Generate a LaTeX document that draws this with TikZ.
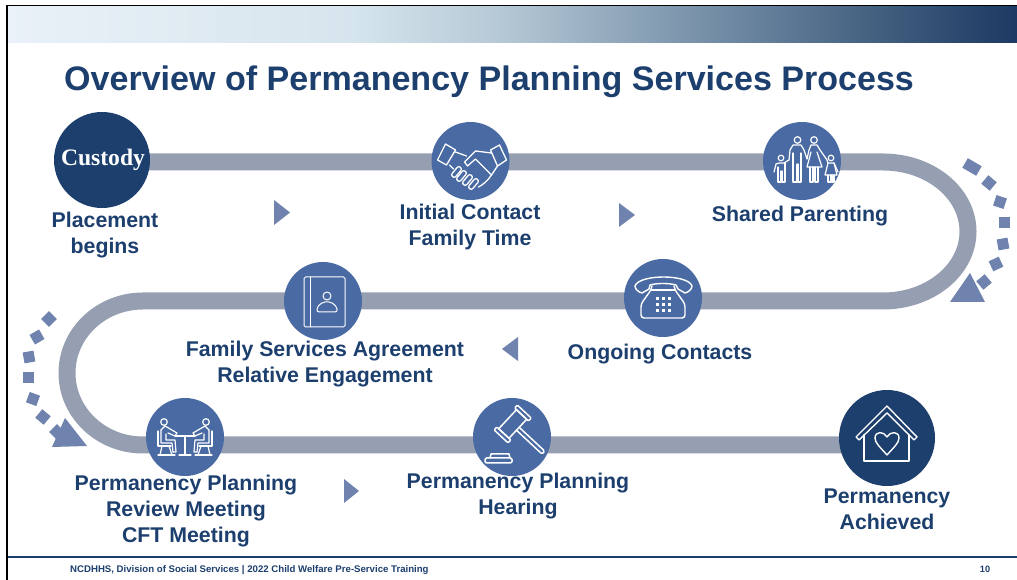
\documentclass[tikz,border=0pt]{standalone}
\usepackage{fontspec}
\setmainfont{Liberation Sans}
\newfontfamily\custodyfont{Liberation Serif}
\usetikzlibrary{backgrounds}

\definecolor{navyblue}{HTML}{1C3F6E}
\definecolor{stepblue}{HTML}{4A6AA3}
\definecolor{trackgray}{HTML}{969FB2}
\definecolor{markblue}{HTML}{6F83AE}
\definecolor{bandA}{HTML}{EAF1F8}
\definecolor{bandB}{HTML}{D6E5ED}
\definecolor{bandC}{HTML}{B5C8D5}
\definecolor{bandD}{HTML}{7A93AB}
\definecolor{bandE}{HTML}{42607F}
\definecolor{bandF}{HTML}{1C3A63}

\pgfdeclarehorizontalshading{headerband}{100bp}{
  color(0bp)=(bandA); color(25bp)=(bandA);
  color(42bp)=(bandB); color(49.5bp)=(bandC);
  color(59bp)=(bandD); color(68bp)=(bandE);
  color(75bp)=(bandF); color(100bp)=(bandF)}

\tikzset{
  smallstep/.style={circle, fill=stepblue, minimum size=78pt, inner sep=0pt},
  bigstep/.style={circle, fill=navyblue, minimum size=96pt, inner sep=0pt},
  steplabel/.style={text=navyblue, align=center, inner sep=0pt,
    font=\fontsize{21.3}{26}\selectfont\bfseries},
  track/.style={draw=trackgray, line width=17pt},
  icon/.style={draw=white, line width=1.3pt, line join=round, line cap=round},
  playmark/.style={fill=markblue},
}

\begin{document}
\begin{tikzpicture}[x=1pt, y=1pt]

\useasboundingbox (0,0) rectangle (1017,580);

% Slide frame and header band
\fill[black] (6,0) rectangle (8,574);
\fill[black] (6,573) rectangle (1017,574.5);
\shade[shading=headerband] (8,537) rectangle (1017,573);

% Title
\node[anchor=base west, inner sep=0pt, text=navyblue, font=\fontsize{34.05}{38}\selectfont\bfseries]
  (title) at (64,489.5) {Overview of Permanency Planning Services Process};

% Step circles
\node[bigstep] (custody) at (102,420) {\hspace{2pt}\custodyfont\fontsize{23.6}{26}\selectfont\bfseries\color{white}Custody};
\node[smallstep] (contact) at (470.5,419) {};
\node[smallstep] (shared) at (802,419) {};
\node[smallstep] (ongoing) at (663,282) {};
\node[smallstep] (agreement) at (323,279) {};
\node[smallstep] (review) at (185,143) {};
\node[smallstep] (hearing) at (512,143) {};
\node[bigstep] (achieved) at (887,142) {};

% Track through the steps
\coordinate (turnR) at (883,418);
\coordinate (turnL) at (143,279);
\coordinate (trackend) at (887,135);
\begin{scope}[on background layer]
\fill[white] (0,0) rectangle (1017,580);
\draw[track] (custody.center |- turnR) -- (turnR) arc[start angle=90, end angle=-90, x radius=85, y radius=69.5]
  -- (turnL) arc[start angle=90, end angle=270, x radius=76, y radius=72]
  -- (trackend);
\end{scope}

% Labels
\node[steplabel] (placementlabel) at (105,345) {Placement\\begins};
\node[steplabel] (contactlabel) at (470,353) {Initial Contact\\Family Time};
\node[steplabel] (sharedlabel) at (800,364) {Shared Parenting};
\node[steplabel] (ongoinglabel) at (660,226) {Ongoing Contacts};
\node[steplabel] (agreementlabel) at (325,216) {Family Services Agreement\\Relative Engagement};
\node[steplabel] (reviewlabel) at (186,69) {Permanency Planning\\Review Meeting\\CFT Meeting};
\node[steplabel] (hearinglabel) at (518,84) {Permanency Planning\\Hearing};
\node[steplabel] (achievedlabel) at (887,71) {Permanency\\Achieved};

% Direction marks
\fill[playmark] (274,380) -- (290,367.5) -- (274,355) -- cycle;
\fill[playmark] (619,377) -- (635,365) -- (619,353) -- cycle;
\fill[playmark] (518,243) -- (502,231) -- (518,219) -- cycle;
\fill[playmark] (344,101) -- (359,89) -- (344,77) -- cycle;

% Dashed turn arrow, right
\foreach \x/\y/\a/\l in {972/413/-30/8, 989/397/-40/5.5, 1000/378/-18/5.5, 1004/357/0/5.5, 1003/336/10/5.5, 996/316/25/5.5, 984/298/40/5.5}
  \fill[playmark, shift={(\x,\y)}, rotate=\a] (-\l,-5.5) rectangle (\l,5.5);
\fill[playmark] (970,307) -- (950,278) -- (985,278) -- cycle;

% Dashed turn arrow, left
\foreach \x/\y/\a in {49/261/45, 37/243/30, 29/223/10, 28/202/0, 33/181/-20, 43/163/-40, 57/148/-45}
  \fill[playmark, shift={(\x,\y)}, rotate=\a] (-5.5,-5.5) rectangle (5.5,5.5);
\fill[playmark] (65,162) -- (52,133) -- (87,134) -- cycle;

% Handshake
\begin{scope}[icon, shift={(contact.center)}]
\draw (-25,17) -- (-15,11) -- (-24,-4) -- (-33,1) -- cycle;
\draw (20,11) -- (29,16) -- (36,1) -- (27,-5) -- cycle;
\draw (-15,9) -- (-4,5);
\draw (21,8) -- (5,10) -- (-6,-1) -- (-3,-5) -- (5,2) -- (21,-14);
\draw (21,-14) -- (27,-5);
\draw (-21,-4) -- (-17,-8);
\draw (21,-14) .. controls (17,-20) and (12,-24) .. (8,-26);
\foreach \x/\y in {-14/-11, -9/-15, -3/-19, 3/-23}
  \draw[shift={(\x,\y)}, rotate=50, rounded corners=2pt] (-6,-2.4) rectangle (6,2.4);
\end{scope}

% Family
\begin{scope}[icon, line width=1.2pt, shift={(shared.center)}]
\draw (-4.5,21) circle (3.3);
\draw (12,21) circle (3.3);
\draw (-21,3) circle (2.8);
\draw (29,3) circle (2.8);
\draw (-13,1) -- (-12,11) -- (-9,16) -- (-1,16) -- (2,11) -- (5,2);
\draw (-9,8) -- (-9,-21) -- (-5,-21) -- (-5,-3) (-4,-3) -- (-4,-21) -- (-1,-21) -- (-1,8);
\draw (5,2) -- (7,11) -- (9,16) -- (15,16) -- (18,11) -- (25,1);
\draw (9,9) -- (5,-6) -- (20,-6) -- (15,9);
\draw (8,-6) -- (8,-21) -- (11,-21) -- (11,-6) (13,-6) -- (13,-21) -- (16,-21) -- (16,-6);
\draw (-28,-11) -- (-26,-3) -- (-23,-2) -- (-18,-2) -- (-13,1);
\draw (-24,-6) -- (-24,-21) -- (-21,-21) -- (-21,-10) (-20,-10) -- (-20,-21) -- (-17,-21) -- (-17,-2);
\draw (25,1) -- (26,-2) -- (32,-2) -- (36,-11);
\draw (26,-2) -- (23,-14) -- (35,-14) -- (32,-2);
\draw (26,-14) -- (26,-21) -- (29,-21) -- (29,-14) (30,-14) -- (30,-21) -- (32,-21) -- (32,-14);
\end{scope}

% Telephone
\begin{scope}[icon, line width=1.4pt, shift={(ongoing.center)}]
\draw (-21,5) .. controls (-25,6) and (-28,9) .. (-28,12) .. controls (-24,24) and (25,24) .. (29,12)
  .. controls (29,9) and (26,6) .. (22,5) -- (15,9) -- (13,13) .. controls (6,15) and (-6,15) .. (-13,13) -- (-14,9) -- cycle;
\draw[rounded corners=3pt] (-11,12) -- (-12,8) -- (-22,-6) -- (-22,-20) -- (22,-20) -- (22,-6) -- (12,8) -- (11,12);
\draw (-12,8) -- (12,8);
\foreach \x in {-6,0,6} \foreach \y in {-1,-7,-13}
  \fill[white, draw=none] (\x-1.5,\y-1.5) rectangle (\x+1.5,\y+1.5);
\end{scope}

% Address book
\begin{scope}[icon, line width=1pt, shift={(agreement.center)}]
\draw[rounded corners=1.5pt] (-19,-26) rectangle (22,24);
\draw (-13,24) -- (-13,-26);
\draw (4,5) circle (4);
\draw[rounded corners=2pt] (-6,-11) -- (14,-11) -- (14,-6) -- (8,-1) -- (0,-1) -- (-6,-6) -- cycle;
\end{scope}

% Meeting at a table
\begin{scope}[icon, line width=1.2pt, shift={(review.center)}]
\draw (-10,1) -- (10,1) (0,1) -- (0,-18) (-6,-18) -- (6,-18);
\foreach \s in {1,-1} {
  \begin{scope}[xscale=\s]
  \draw (-21,15) circle (3.3);
  \draw (-24,7) -- (-20,11) -- (-8,4) -- (-10,1) -- (-17,4);
  \draw (-24,7) -- (-24,-6) -- (-13,-6) -- (-12,-15);
  \draw (-19,3) -- (-19,-3) -- (-10,-3) -- (-9,-15) -- (-12,-15);
  \draw (-27,6) -- (-27,-9) -- (-14,-9);
  \draw (-23,-9) -- (-25,-18) (-16,-9) -- (-13,-18);
  \draw (-27,-18) -- (-10,-18);
  \end{scope}
}
\end{scope}

% Gavel
\begin{scope}[icon, line width=1.5pt, shift={(hearing.center)}]
\begin{scope}[shift={(0.7,13)}, rotate=47]
\draw (-13,-7) rectangle (13,7);
\draw[rounded corners=1pt] (-17,-9.5) rectangle (-13,9.5);
\draw[rounded corners=1pt] (13,-9.5) rectangle (17,9.5);
\draw[rounded corners=1.5pt] (-2,-7) -- (-2,-42) -- (2,-42) -- (2,-7);
\end{scope}
\draw[rounded corners=1.5pt] (-27,-26) rectangle (0,-21);
\draw (-22,-21) -- (-21,-17) -- (-3,-17) -- (-2,-21);
\end{scope}

% House with heart
\begin{scope}[icon, line width=1.4pt, shift={(achieved.center)}]
\draw (-31,1) -- (0,32) -- (30,1) -- (27,-2) -- (0,25) -- (-28,-2) -- cycle;
\draw (-23,3) -- (-23,-23) -- (22,-23) -- (22,3);
\draw (0,-17) .. controls (-7,-9) and (-12,-5) .. (-12,0) .. controls (-12,7) and (-3,7) .. (0,1)
  .. controls (3,7) and (12,7) .. (12,0) .. controls (12,-5) and (7,-9) .. (0,-17) -- cycle;
\end{scope}

% Footer
\draw[navyblue, line width=1.6pt] (8,23) -- (1017,23);
\node[anchor=base west, inner sep=0pt, text=navyblue, font=\fontsize{9.63}{11}\selectfont\bfseries]
  (footer) at (70,7) {NCDHHS, Division of Social Services | 2022 Child Welfare Pre-Service Training};
\node[anchor=base, inner sep=0pt, text=navyblue, font=\fontsize{9.2}{11}\selectfont\bfseries]
  (pagenumber) at (985,7) {10};

\end{tikzpicture}
\end{document}
